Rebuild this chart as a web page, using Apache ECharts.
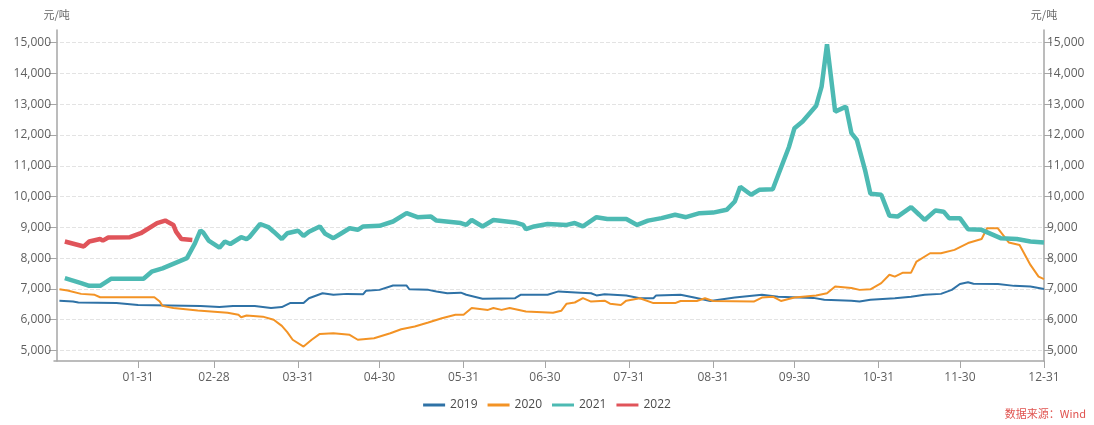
<!DOCTYPE html>
<html>
<head>
<meta charset="utf-8">
<script src="https://cdn.jsdelivr.net/npm/echarts@6/dist/echarts.min.js"></script>
<style>
html,body{margin:0;padding:0;background:#fff;}
#main{width:1094px;height:425px;}
</style>
</head>
<body>
<div id="main"></div>
<script>
// X values are day-of-year (0 = 01-01, 364 = 12-31)
const monthEndLabels = ['01-31','02-28','03-31','04-30','05-31','06-30','07-31','08-31','09-30','10-31','11-30','12-31'];
const yTicks = [5000,6000,7000,8000,9000,10000,11000,12000,13000,14000,15000];
const seriesNames = ['2019','2020','2021','2022'];

const days2019 = [1,6,8,22,30,53,60,65,73,79,83,86,91,93,98,102,107,113,114,119,124,129,130,137,140,144,149,151,157,169,171,181,185,193,197,199,202,210,215,220,221,230,235,241,250,260,266,279,283,293,296,300,309,315,320,326,330,333,336,338,347,353,359,364];
const vals2019 = [6620,6590,6560,6540,6480,6450,6410,6450,6450,6380,6410,6540,6540,6700,6860,6810,6840,6830,6940,6970,7110,7110,6990,6970,6920,6860,6880,6810,6680,6700,6810,6810,6920,6880,6860,6790,6830,6790,6700,6700,6790,6810,6720,6610,6720,6810,6750,6710,6650,6620,6590,6650,6700,6750,6810,6840,6970,7160,7220,7170,7160,7100,7080,7000];

const days2020 = [1,4,9,14,16,36,38,39,43,52,63,67,68,70,76,80,83,85,87,91,94,97,102,108,111,117,123,127,132,137,142,147,150,153,159,161,164,167,173,183,186,188,191,194,197,202,204,208,210,215,220,228,230,236,239,242,257,260,264,267,272,280,284,287,293,296,300,304,307,309,312,315,317,322,326,331,336,341,343,347,351,355,359,362,364];
const vals2020 = [6990,6950,6840,6810,6730,6730,6590,6450,6380,6300,6230,6160,6080,6140,6100,6000,5800,5600,5350,5130,5350,5540,5560,5510,5350,5400,5560,5690,5780,5910,6050,6160,6160,6380,6320,6380,6320,6380,6270,6230,6290,6520,6560,6700,6590,6620,6520,6480,6620,6700,6540,6540,6610,6610,6700,6610,6590,6720,6750,6610,6720,6790,6860,7080,7030,6970,6990,7190,7460,7400,7530,7530,7890,8160,8160,8270,8490,8620,8970,8970,8510,8430,7780,7400,7320];

const days2021 = [3,6,9,12,16,20,32,35,39,48,51,53,54,56,60,62,64,68,70,71,75,78,80,83,85,89,91,93,97,99,102,105,108,111,113,119,124,129,133,138,140,149,151,153,157,161,169,172,173,176,181,188,191,194,199,203,210,214,218,223,228,232,237,242,247,250,252,256,259,264,266,270,272,275,280,282,284,287,291,293,295,298,300,304,307,310,315,318,320,324,327,329,333,336,341,348,354,359,364];
const vals2021 = [7350,7270,7190,7100,7100,7330,7330,7560,7670,8000,8490,8900,8830,8570,8340,8540,8460,8680,8620,8680,9110,9010,8860,8620,8810,8890,8720,8860,9030,8790,8650,8810,8970,8920,9030,9050,9190,9460,9330,9350,9220,9140,9080,9240,9030,9240,9160,9080,8940,9030,9110,9080,9140,9030,9330,9270,9270,9080,9220,9300,9410,9330,9460,9480,9570,9840,10320,10060,10220,10240,10700,11620,12220,12440,12950,13570,14950,12760,12920,12060,11840,10870,10090,10060,9380,9350,9660,9410,9240,9550,9510,9300,9300,8940,8920,8650,8620,8540,8510];

const days2022 = [3,10,12,16,17,19,27,31,37,40,43,44,46,50];
const vals2022 = [8540,8380,8540,8620,8570,8670,8680,8810,9140,9220,9080,8860,8620,8590];

const colors = ['#2f72a6','#f39325','#4dbab3','#e0545a'];
const widths = [2,2,4.5,4.5];

function dayOfYear(mmdd){
  const [m,d] = mmdd.split('-').map(Number);
  const cum = [0,31,59,90,120,151,181,212,243,273,304,334];
  return cum[m-1] + d - 1;
}
const monthEndDays = monthEndLabels.map(dayOfYear);
const labelByDay = {};
monthEndDays.forEach((d,i)=>{labelByDay[d]=monthEndLabels[i];});

function zip(xs, ys){ return xs.map((x,i)=>[x, ys[i]]); }
const allDays = [days2019, days2020, days2021, days2022];
const allVals = [vals2019, vals2020, vals2021, vals2022];

const fmt = v => v.toLocaleString('en-US');
const font = "'Open Sans', 'Noto Sans', sans-serif";

const yCommon = {
  type:'value', min:4660, max:15410,
  name:'元/吨', nameLocation:'end', nameGap:10,
  nameTextStyle:{color:'#666', fontSize:11, fontFamily:"'Noto Sans CJK SC', sans-serif", align:'center'},
  axisLine:{show:true, lineStyle:{color:'#a6a6a6', width:1.5}},
  axisTick:{show:true, customValues:yTicks, length:8, lineStyle:{color:'#a6a6a6'}},
  axisLabel:{customValues:yTicks, formatter:fmt, color:'#5f5f5f', fontSize:12, fontFamily:font, margin:3}
};

const chart = echarts.init(document.getElementById('main'), null, {renderer:'canvas'});
chart.setOption({
  animation:false,
  backgroundColor:'#fff',
  grid:{left:54, right:50, top:30, bottom:64, containLabel:false},
  legend:{
    data:seriesNames, bottom:9, left:'center',
    icon:'rect', itemWidth:22, itemHeight:3, itemGap:10,
    textStyle:{color:'#4a4a4a', fontSize:12, fontFamily:font}
  },
  graphic:[{
    type:'text', right:8, top:408,
    style:{text:'数据来源：Wind', fill:'#e0534f', fontSize:11, fontFamily:"'Noto Sans CJK SC', sans-serif"}
  }],
  xAxis:{
    type:'value', min:-1, max:364,
    axisLine:{lineStyle:{color:'#a6a6a6', width:1.5}},
    axisTick:{show:true, customValues:monthEndDays, length:7, lineStyle:{color:'#a6a6a6'}},
    axisLabel:{customValues:monthEndDays, formatter:v=>labelByDay[v]||'', color:'#5f5f5f', fontSize:12, fontFamily:font, margin:11},
    splitLine:{show:false}
  },
  yAxis:[
    Object.assign({}, yCommon, {position:'left',
      splitLine:{show:true, lineStyle:{color:'#e3e3e3', type:'dashed', width:1}}}),
    Object.assign({}, yCommon, {position:'right', splitLine:{show:false}})
  ],
  series: seriesNames.map((n,i)=>({
    name:n, type:'line', yAxisIndex:0,
    data: zip(allDays[i], allVals[i]),
    showSymbol:false, symbol:'none',
    lineStyle:{color:colors[i], width:widths[i]},
    itemStyle:{color:colors[i]}
  }))
});
</script>
</body>
</html>
